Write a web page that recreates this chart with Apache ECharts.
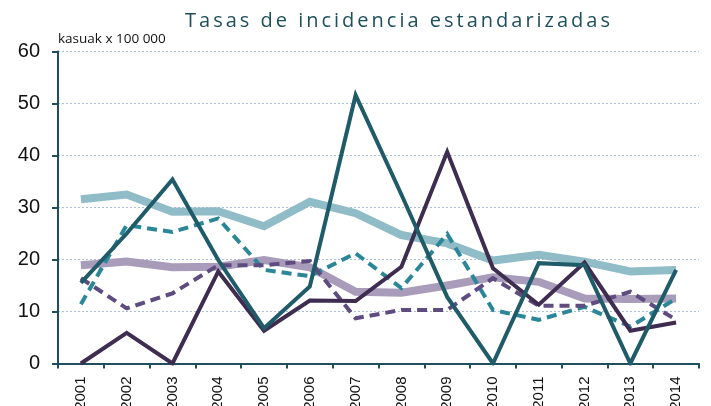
<!DOCTYPE html>
<html>
<head>
<meta charset="utf-8">
<script src="https://cdn.jsdelivr.net/npm/echarts@6/dist/echarts.min.js"></script>
<style>
  html, body { margin: 0; padding: 0; background: #fff; }
  .wrap { position: relative; width: 711px; height: 406px; overflow: hidden; }
  #chart { width: 711px; height: 406px; }
  .chart-title {
    position: absolute;
    left: 185px;
    top: 10px;
    font-family: 'Open Sans', sans-serif;
    font-size: 20px;
    line-height: 20px;
    letter-spacing: 3px;
    color: #1f4f5c;
    white-space: nowrap;
  }
</style>
</head>
<body>
<div class="wrap">
  <div id="chart"></div>
  <div class="chart-title">Tasas de incidencia estandarizadas</div>
</div>
<script>
  // datos
  const years = ['2001','2002','2003','2004','2005','2006','2007','2008','2009','2010','2011','2012','2013','2014']
  const lightTeal = [31.6, 32.5, 29.2, 29.3, 26.4, 31.1, 28.9, 24.7, 23.1, 19.8, 20.9, 19.6, 17.7, 18.0]
  const lightPurple = [18.9, 19.6, 18.5, 18.6, 19.9, 18.5, 13.8, 13.6, 15.0, 16.6, 15.7, 12.5, 12.4, 12.5]
  const tealDashed = [11.4, 26.6, 25.3, 27.9, 18.0, 16.8, 21.2, 14.5, 24.9, 10.3, 8.4, 10.9, 7.1, 12.5]
  const purpleDashed = [16.4, 10.6, 13.5, 18.9, 18.9, 19.7, 8.7, 10.3, 10.3, 16.4, 11.1, 11.1, 13.8, 8.4]
  const darkPurple = [0, 5.9, 0, 17.7, 6.3, 12.1, 12.0, 18.6, 40.7, 18.3, 11.3, 19.4, 6.3, 7.9]
  const darkTeal = [15.5, 25.0, 35.4, 19.9, 6.8, 14.8, 51.6, 32.5, 12.8, 0, 19.3, 18.9, 0, 18.0]

  const axisColor = '#1f4f5c'

  function lineSeries(data, color, width, dashed) {
    return {
      type: 'line',
      data: data,
      symbol: 'none',
      lineStyle: {
        color: color,
        width: width,
        type: dashed ? [10, 6] : 'solid',
        cap: 'butt',
        join: 'miter'
      }
    }
  }

  const chart = echarts.init(document.getElementById('chart'))
  chart.setOption({
    animation: false,
    title: {
      text: 'kasuak x 100 000',
      left: 58,
      top: 32,
      padding: 0,
      textStyle: {
        fontFamily: 'Open Sans',
        fontWeight: 'normal',
        fontSize: 13.5,
        color: '#111'
      }
    },
    grid: { left: 58, right: 12, top: 51.5, bottom: 42.5, containLabel: false, outerBoundsMode: 'none' },
    xAxis: {
      type: 'category',
      data: years,
      boundaryGap: true,
      axisLine: { lineStyle: { color: axisColor, width: 2 } },
      axisTick: { show: true, interval: 0, length: 5, lineStyle: { color: axisColor, width: 2 } },
      axisLabel: {
        interval: 0,
        rotate: 90,
        margin: 13,
        fontFamily: 'Liberation Sans',
        fontSize: 15,
        color: '#111'
      }
    },
    yAxis: {
      type: 'value',
      min: 0,
      max: 60,
      interval: 10,
      axisLine: { show: true, lineStyle: { color: axisColor, width: 2 } },
      axisTick: { show: true, length: 6, lineStyle: { color: axisColor, width: 2 } },
      axisLabel: {
        margin: 18,
        fontFamily: 'Liberation Sans Narrow, Liberation Sans',
        fontSize: 20,
        color: '#111'
      },
      splitLine: { lineStyle: { color: '#a9bcd8', width: 1, type: [2, 2] } }
    },
    series: [
      lineSeries(lightTeal, '#8fbcc6', 8, false),
      lineSeries(lightPurple, '#a99bba', 8, false),
      lineSeries(tealDashed, '#2b8798', 4, true),
      lineSeries(purpleDashed, '#5e4b80', 4, true),
      lineSeries(darkPurple, '#3e2d50', 4, false),
      lineSeries(darkTeal, '#1f5b68', 4, false)
    ]
  })
</script>
</body>
</html>
